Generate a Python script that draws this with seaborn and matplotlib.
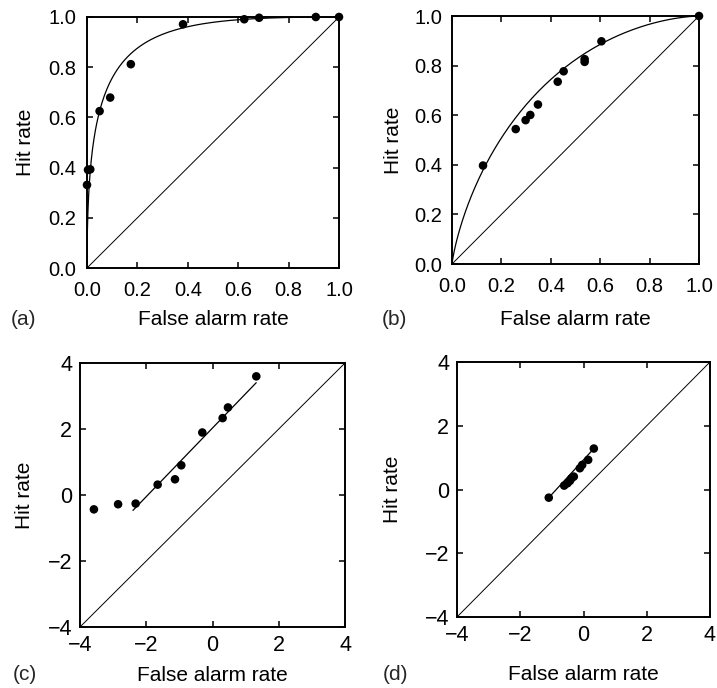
import math
import numpy as np
import matplotlib
matplotlib.use("Agg")
import matplotlib.pyplot as plt
import seaborn as sns

# (a) ROC points, probability scale
far_a = [0.0, 0.004, 0.013, 0.05, 0.092, 0.174, 0.381, 0.624, 0.683, 0.908, 1.0]
hit_a = [0.331, 0.391, 0.393, 0.625, 0.679, 0.812, 0.971, 0.991, 0.997, 1.0, 1.0]
# (b) ROC points, probability scale
far_b = [0.1255, 0.258, 0.298, 0.317, 0.348, 0.428, 0.452, 0.537, 0.537, 0.605, 1.0]
hit_b = [0.397, 0.544, 0.580, 0.601, 0.643, 0.735, 0.777, 0.826, 0.815, 0.898, 1.0]
# (c) z-transformed points of (a)
far_c = [-3.58, -2.85, -2.32, -1.656, -1.133, -0.942, -0.308, 0.306, 0.467, 1.322]
hit_c = [-0.435, -0.28, -0.26, 0.314, 0.476, 0.90, 1.894, 2.33, 2.653, 3.595]
# (d) z-transformed points of (b)
far_d = [-1.098, -0.612, -0.507, -0.43, -0.38, -0.306, -0.116, -0.042, 0.148, 0.327]
hit_d = [-0.256, 0.122, 0.195, 0.27, 0.35, 0.405, 0.667, 0.77, 0.93, 1.285]

# fitted binormal model: z(H) = intercept + slope * z(F)
fit_a = (2.03, 1.04)
fit_b = (0.93, 1.08)
zrange_c = [-2.4, 1.32]
zrange_d = [-1.1, 0.33]

prob_lims = [0.0, 1.0]
z_lims = [-4.0, 4.0]
prob_ticks = [0.0, 0.2, 0.4, 0.6, 0.8, 1.0]
z_ticks = [-4, -2, 0, 2, 4]

sns.set_theme(style="ticks")
plt.rcParams['font.family'] = ['Liberation Sans', 'DejaVu Sans']

phi = np.vectorize(lambda z: 0.5 * (1 + math.erf(z / math.sqrt(2))))


def roc_curve(fit):
    z = np.linspace(-7, 7, 600)
    return phi(z), phi(fit[0] + fit[1] * z)


def fmt_tick(t, fmt):
    return fmt.format(t).replace('-', '\u2212')


def style_axes(ax, lims, ticks, fmt, fs, xpad, ypad):
    ax.set_xlim(lims)
    ax.set_ylim(lims)
    ax.set_xticks(ticks)
    ax.set_yticks(ticks)
    ax.set_xticklabels([fmt_tick(t, fmt) for t in ticks])
    ax.set_yticklabels([fmt_tick(t, fmt) for t in ticks])
    ax.tick_params(direction='in', top=True, right=True, length=4.5, width=1.1,
                   labelsize=fs, colors='black')
    ax.tick_params(axis='x', pad=xpad)
    ax.tick_params(axis='y', pad=ypad)
    for sp in ax.spines.values():
        sp.set_visible(True)
        sp.set_linewidth(1.4)
        sp.set_color('black')
    ax.plot(lims, lims, color='black', lw=0.7)


def add_labels(ax, xly, ylx, fs=15):
    ax.set_xlabel("False alarm rate", fontsize=fs, color='black')
    ax.set_ylabel("Hit rate", fontsize=fs, color='black')
    ax.xaxis.set_label_coords(0.5, xly)
    ax.yaxis.set_label_coords(ylx, 0.5)
    ax.xaxis.label.set_va('center')
    ax.yaxis.label.set_va('center')


W, H = 717, 688
fig = plt.figure(figsize=(W / 100, H / 100), dpi=100, facecolor='white')


def axes_px(x0, y0, x1, y1):
    return fig.add_axes([x0 / W, 1 - y1 / H, (x1 - x0) / W, (y1 - y0) / H])


ax_a = axes_px(87, 17, 339, 268)
ax_b = axes_px(452, 16, 699, 264)
ax_c = axes_px(80, 363, 345, 627)
ax_d = axes_px(457, 362, 710, 617)

dot = dict(color='black', s=38, edgecolor='none', clip_on=False, legend=False, zorder=3)

# (a)
style_axes(ax_a, prob_lims, prob_ticks, "{:.1f}", 14.5, 9, 7.5)
fa, ha = roc_curve(fit_a)
sns.lineplot(x=fa, y=ha, sort=False, estimator=None, color='black', lw=0.9, ax=ax_a)
sns.scatterplot(x=far_a, y=hit_a, ax=ax_a, **dot)
add_labels(ax_a, -0.205, -0.246)

# (b)
style_axes(ax_b, prob_lims, prob_ticks, "{:.1f}", 14.5, 9, 7)
fb, hb = roc_curve(fit_b)
sns.lineplot(x=fb, y=hb, sort=False, estimator=None, color='black', lw=0.9, ax=ax_b)
sns.scatterplot(x=far_b, y=hit_b, ax=ax_b, **dot)
add_labels(ax_b, -0.225, -0.235)

# (c)
style_axes(ax_c, z_lims, z_ticks, "{:d}", 15.5, 5.5, 5.5)
zc = np.array(zrange_c)
sns.lineplot(x=zc, y=fit_a[0] + fit_a[1] * zc, color='black', lw=0.9, ax=ax_c)
sns.scatterplot(x=far_c, y=hit_c, ax=ax_c, **dot)
add_labels(ax_c, -0.182, -0.208)

# (d)
style_axes(ax_d, z_lims, z_ticks, "{:d}", 15.5, 5.5, 5.5)
zd = np.array(zrange_d)
sns.lineplot(x=zd, y=fit_b[0] + fit_b[1] * zd, color='black', lw=0.9, ax=ax_d)
sns.scatterplot(x=far_d, y=hit_d, ax=ax_d, **dot)
add_labels(ax_d, -0.227, -0.253)

for lab, (px, py) in zip(["(a)", "(b)", "(c)", "(d)"],
                         [(24, 320), (394, 320), (25, 675), (395, 675)]):
    fig.text(px / W, 1 - py / H, lab, fontsize=15, ha='center', va='center')

fig.savefig("out.png", dpi=100, facecolor='white')
